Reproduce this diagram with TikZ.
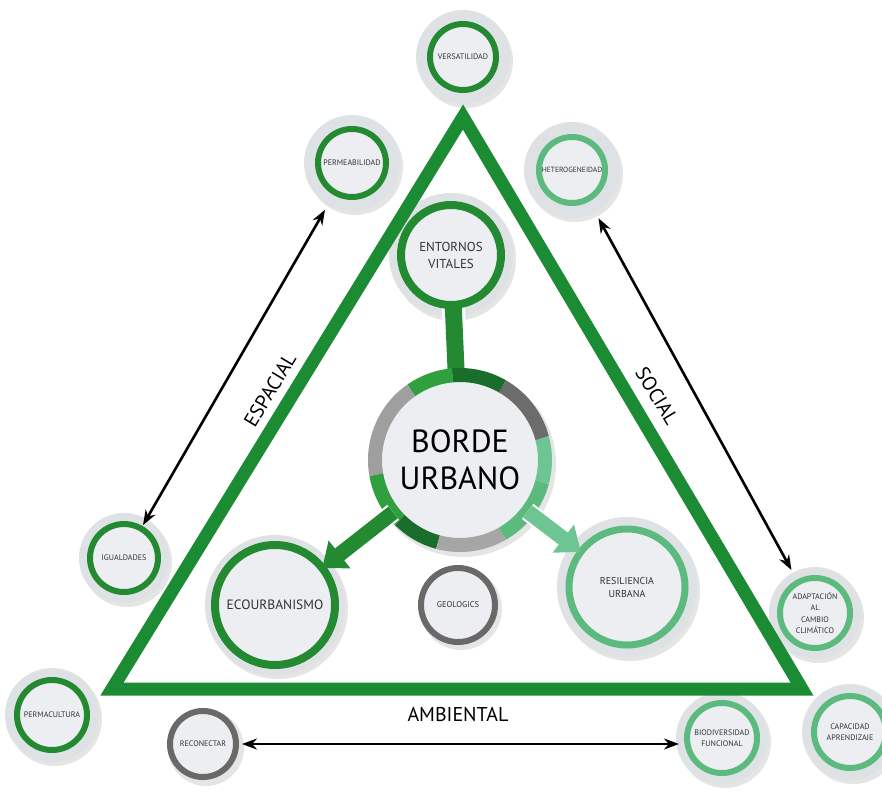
\documentclass[tikz,border=0pt]{standalone}
\usepackage{fontspec}
\setmainfont{PT Sans}
\usetikzlibrary{arrows.meta,backgrounds}
\definecolor{triG}{RGB}{28,140,52}
\definecolor{dkG}{RGB}{36,138,50}
\definecolor{dkG2}{RGB}{26,110,44}
\definecolor{brG}{RGB}{48,160,62}
\definecolor{ltG}{RGB}{92,186,126}
\definecolor{ltG2}{RGB}{110,196,146}
\definecolor{grR}{RGB}{105,105,105}
\definecolor{haloC}{RGB}{222,226,229}
\definecolor{innerC}{RGB}{236,238,241}
\definecolor{txt}{RGB}{50,50,50}
\begin{document}
\begin{tikzpicture}[x=1pt,y=-1pt,
  ring/.style={circle, inner sep=0pt, outer sep=0pt, line width=6pt, fill=innerC,
    text=txt, align=center, font=\fontsize{8}{11}\selectfont},
  halo/.style={fill=haloC},
  hshadow/.style={fill=black, opacity=0.10},
  dbl/.style={line width=2.6pt, black, {Stealth[length=15pt,width=11pt]}-{Stealth[length=15pt,width=11pt]}},
  fat/.style={line width=15pt, -{Triangle[width=34pt,length=22pt]}},
  lab/.style={font=\fontsize{20}{22}\selectfont, text=black}]
\useasboundingbox (0,0) rectangle (882,795);
\clip (0,0) rectangle (882,795);

% triangle
\coordinate (t1) at (463,117);
\coordinate (t2) at (802,689);
\coordinate (t3) at (112,689);
\draw[triG, line width=13pt, line join=miter] (t1) -- (t2) -- (t3) -- cycle;

% nodes
\node[ring, draw=dkG, minimum size=66pt] (V) at (463,57) {VERSATILIDAD};
\node[ring, draw=dkG, minimum size=68pt] (P) at (352,163) {PERMEABILIDAD};
\node[ring, draw=ltG, minimum size=66pt, font=\fontsize{7.5}{10}\selectfont] (H) at (572,170) {HETEROGENEIDAD};
\node[ring, draw=dkG, minimum size=68pt] (I) at (124,558) {IGUALDADES};
\node[ring, draw=dkG, minimum size=70pt] (M) at (52,715) {PERMACULTURA};
\node[ring, draw=grR, minimum size=66pt] (R) at (203,744) {RECONECTAR};
\node[ring, draw=ltG, minimum size=70pt] (B) at (722,738) {BIODIVERSIDAD\\FUNCIONAL};
\node[ring, draw=ltG, minimum size=70pt, font=\fontsize{8}{11.5}\selectfont] (A) at (815,613) {ADAPTACIÓN\\AL\\CAMBIO\\CLIMÁTICO};
\node[ring, draw=ltG, minimum size=72pt] (K) at (850,732) {CAPACIDAD\\APRENDIZAJE};
\node[ring, draw=dkG, line width=8pt, minimum size=100pt, font=\fontsize{13}{17}\selectfont] (E) at (451,255) {ENTORNOS\\VITALES};
\node[ring, draw=dkG, line width=8pt, minimum size=120pt, font=\fontsize{13.5}{16}\selectfont] (O) at (275,605) {ECOURBANISMO};
\node[ring, draw=ltG, line width=7pt, minimum size=116pt, font=\fontsize{10}{13}\selectfont] (S) at (627,587) {RESILIENCIA\\URBANA};
\node[ring, draw=grR, line width=6pt, minimum size=74pt, font=\fontsize{8.5}{11}\selectfont] (G) at (458,605) {GEOLOGICS};
\node[circle, inner sep=0pt, outer sep=0pt, minimum size=170pt, fill=innerC, align=center,
  font=\fontsize{32}{37}\selectfont, text=black] (C) at (460,460) {BORDE\\URBANO};

% centre ring segments (visual angles, negated because y points down)
\foreach \a/\b/\c in {60/95/dkG2, 95/125/brG, 125/190/gray!75, 190/225/brG, 225/255/dkG2,
    255/300/gray!70, 300/345/ltG, 345/375/ltG2, 15/60/gray!85!black}
  \draw[draw=\c, line width=14pt] (C) ++(-\a:85) arc[start angle=-\a, end angle=-\b, radius=85];

% labels
\node[lab, rotate=59] (lEsp) at (270,390) {ESPACIAL};
\node[lab, rotate=-59] (lSoc) at (657,396) {SOCIAL};
\node[lab] (lAmb) at (458,714) {AMBIENTAL};

\begin{pgfonlayer}{background}
  \fill[white] (0,0) rectangle (882,795);
  \foreach \n/\r in {V/47,P/48,H/48,I/45,M/47,B/46,A/46,K/48,E/62,O/70,S/70}{
    \fill[hshadow] ([shift={(3,4)}]\n.center) circle[radius=\r pt];
    \fill[halo] (\n.center) circle[radius=\r pt];
  }
  \foreach \n/\r in {R/38,G/41,C/93}{
    \fill[hshadow] ([shift={(3,4)}]\n.center) circle[radius=\r pt];
  }
  % connector from centre to ENTORNOS VITALES
  \draw[white, line width=23pt] (C) -- (E);
  \draw[dkG, line width=17pt] (C) -- (E);
\end{pgfonlayer}

\draw[white, line width=19pt, shorten >=16pt] (C) -- (O);
\draw[fat, dkG] (C) -- (O);
\draw[white, line width=19pt, shorten >=16pt] (C) -- (S);
\draw[fat, ltG2] (C) -- (S);

% double arrows
\draw[dbl, shorten <=20pt, shorten >=4pt] (P) -- (I);
\draw[dbl, shorten <=22pt, shorten >=14pt] (H) -- (A);
\draw[dbl, shorten <=6pt, shorten >=8pt] (R) -- (R -| B.west);
\end{tikzpicture}
\end{document}
